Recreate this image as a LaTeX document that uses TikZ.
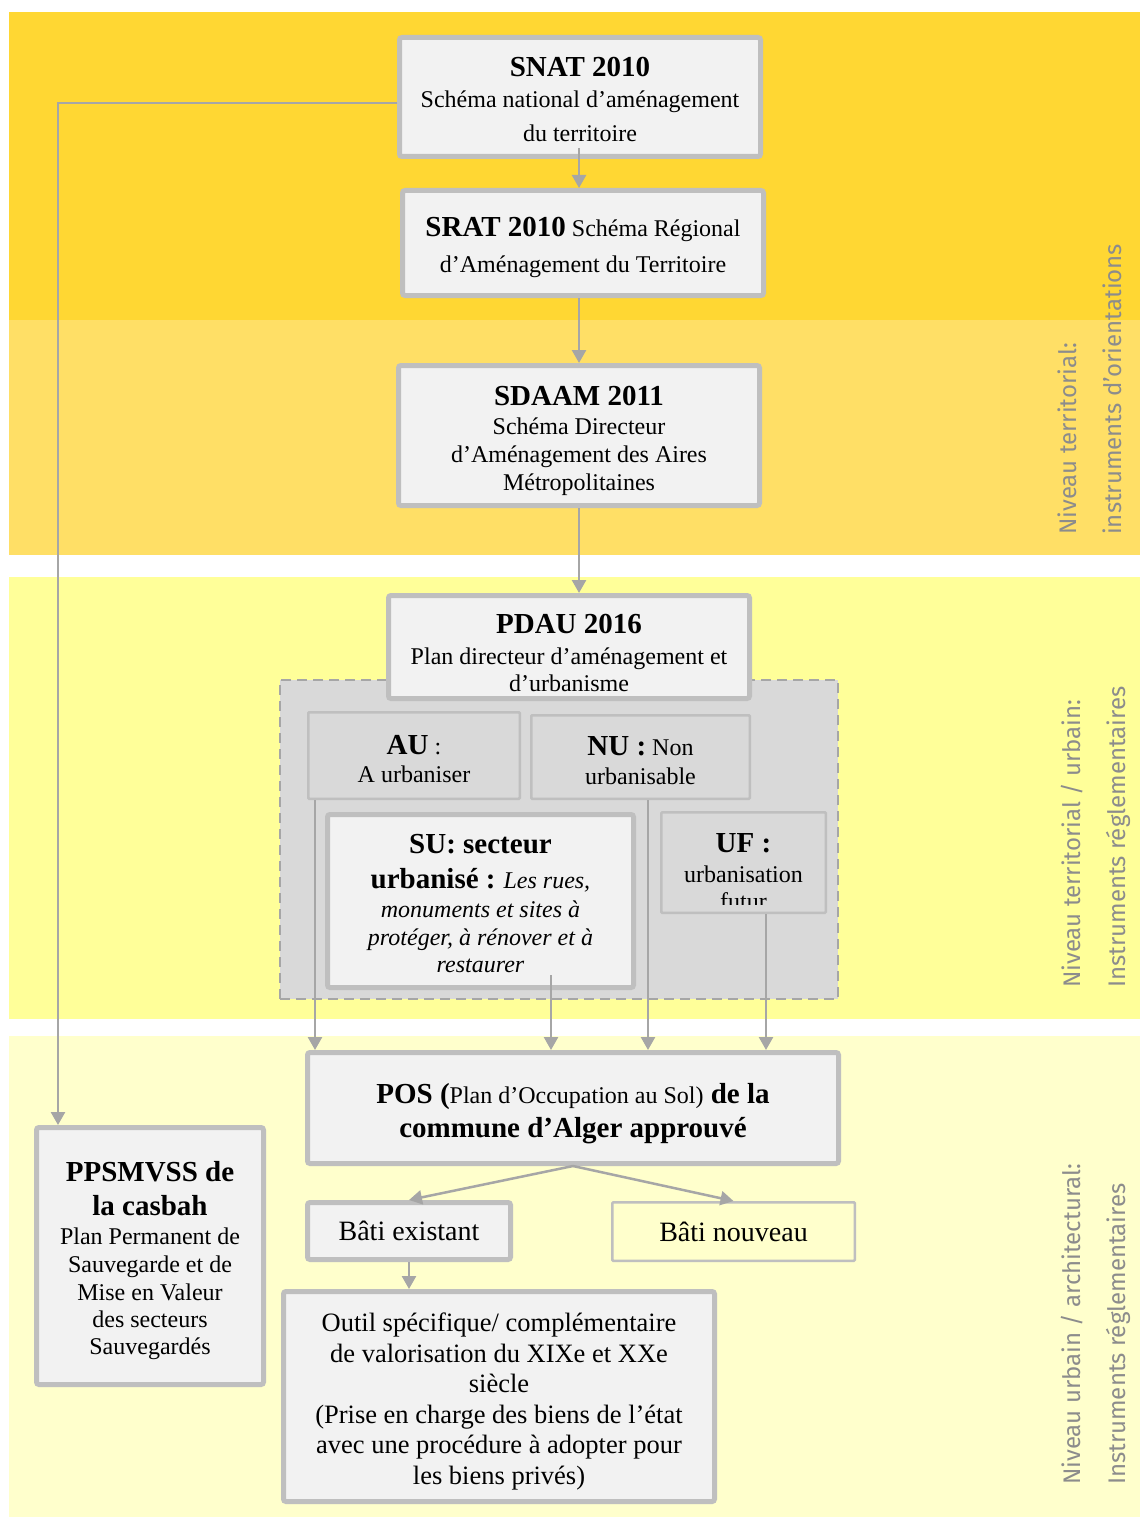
\documentclass[tikz,border=0pt]{standalone}
\usepackage{fontspec}
\setmainfont{Liberation Serif}
\newfontfamily\handfont{Fira Sans}
\usetikzlibrary{arrows.meta,calc}

\definecolor{bandA}{HTML}{FFD733}
\definecolor{bandB}{HTML}{FFDF66}
\definecolor{bandC}{HTML}{FFFF99}
\definecolor{bandD}{HTML}{FFFFCC}
\definecolor{boxfill}{HTML}{F2F2F2}
\definecolor{boxline}{HTML}{BFBFBF}
\definecolor{zonefill}{HTML}{D9D9D9}
\definecolor{zoneline}{HTML}{A6A6A6}
\definecolor{linkgray}{HTML}{A6A6A6}
\definecolor{labelgray}{HTML}{8C8C8C}

\newcommand\bodyfont{\fontsize{24}{28}\selectfont}
\newcommand\headfont{\fontsize{29}{34}\selectfont\bfseries}
\newcommand\bigbody{\fontsize{28}{32}\selectfont}
\newcommand\toolfont{\fontsize{26.5}{30.5}\selectfont}

\tikzset{
  box/.style={draw=boxline, fill=boxfill, line width=5pt, rounded corners=2.5pt,
              inner sep=0pt},
  thinbox/.style={draw=boxline, fill=zonefill, line width=2.5pt, rounded corners=1pt,
              inner sep=0pt},
  txt/.style={align=center, inner sep=0pt, font=\bodyfont},
  zone/.style={draw=zoneline, fill=zonefill, line width=2pt, dash pattern=on 10pt off 6pt,
              inner sep=0pt},
  link/.style={draw=linkgray, line width=2.5pt},
  arr/.style={link, -{Triangle[length=13pt,width=14pt]}},
  sidelabel/.style={rotate=90, anchor=west, align=left, inner sep=0pt, text=labelgray,
              font=\handfont\fontsize{24}{45}\selectfont}
}

\begin{document}
\begin{tikzpicture}[x=1pt,y=-1pt]
\useasboundingbox (0,0) rectangle (1140,1517);

% background bands
\fill[bandA] (9,12) rectangle (1140,320);
\fill[bandB] (9,320) rectangle (1140,555);
\fill[bandC] (9,577) rectangle (1140,1019);
\fill[bandD] (9,1036) rectangle (1140,1517);

% side labels
\node[sidelabel] (labA) at (1090,535) {Niveau territorial:\\instruments d’orientations};
\node[sidelabel] (labB) at (1096,988) {Niveau territorial / urbain:\\Instruments réglementaires};
\node[sidelabel] (labC) at (1096,1485) {Niveau urbain / architectural:\\Instruments réglementaires};

% national / regional / metropolitan schemes
\node[box, minimum width=361pt, minimum height=119pt] (snat) at (580,97) {};
\node[txt] (snatT) at (580,99)
  {{\headfont SNAT 2010}\\[3pt]Schéma national d’aménagement\\[6pt]du territoire};
\node[box, minimum width=361pt, minimum height=105pt] (srat) at (583,243) {};
\node[txt] (sratT) at (583,247)
  {{\headfont SRAT 2010} Schéma Régional\\[8pt]d’Aménagement du Territoire};
\node[box, minimum width=361pt, minimum height=140pt] (sdaam) at (579,435.5) {};
\node[txt] (sdaamT) at (579,441)
  {{\headfont SDAAM 2011}\\[1pt]Schéma Directeur\\d’Aménagement des Aires\\Métropolitaines};

% PDAU zoning area
\node[zone, minimum width=558pt, minimum height=319pt] (zonearea) at (559,839.5) {};
\node[box, minimum width=361pt, minimum height=103pt] (pdau) at (569,647) {};
\node[txt] (pdauT) at (569,653)
  {{\headfont PDAU 2016}\\[3pt]Plan directeur d’aménagement et\\[-1pt]d’urbanisme};
\node[thinbox, minimum width=211.5pt, minimum height=86.5pt] (au) at (414,755.5) {};
\node[txt] (auT) at (414,759.5) {{\headfont AU} :\\A urbaniser};
\node[thinbox, minimum width=218.5pt, minimum height=83.5pt] (nu) at (640.5,757) {};
\node[txt] (nuT) at (640.5,761) {{\headfont NU :} Non\\[1pt]urbanisable};
\node[box, minimum width=306pt, minimum height=173pt] (su) at (480.5,901) {};
\node[txt] (suT) at (480.5,904)
  {{\headfont SU: secteur}\\[7pt]{\headfont urbanisé :} {\itshape Les rues,}\\[1pt]
   {\itshape monuments et sites à}\\{\itshape protéger, à rénover et à}\\[-1pt]{\itshape restaurer}};
\node[thinbox, minimum width=164.5pt, minimum height=100.5pt] (uf) at (743.5,862.5) {};
\begin{scope}
  % the last word runs past the bottom of its box and is cut off there
  \clip (uf.north west) rectangle ([yshift=10pt]uf.south east);
  \node[txt] (ufT) at (743.5,872)
    {{\headfont UF :}\\[2pt]urbanisation\\[-1pt]futur};
\end{scope}

% land use plan and its outcomes
\node[box, minimum width=531pt, minimum height=111pt] (pos) at (573,1108) {};
\node[txt] (posT) at (573,1114)
  {{\headfont POS (}Plan d’Occupation au Sol){\headfont\ de la}\\[6pt]{\headfont commune d’Alger approuvé}};
\node[box, minimum width=227pt, minimum height=257pt] (pp) at (150,1256) {};
\node[txt] (ppT) at (150,1261)
  {{\headfont PPSMVSS de}\\[6pt]{\headfont la casbah}\\[1pt]Plan Permanent de\\Sauvegarde et de\\Mise en Valeur\\[-1pt]des secteurs\\[-1pt]Sauvegardés};
\node[box, minimum width=203pt, minimum height=57pt] (bex) at (409,1231) {};
\node[txt, font=\bigbody] (bexT) at (409,1231) {Bâti existant};
\node[thinbox, fill=bandD, minimum width=242.5pt, minimum height=58.5pt] (bnv) at (733.5,1231.5) {};
\node[txt, font=\bigbody] (bnvT) at (733.5,1232) {Bâti nouveau};
\node[box, minimum width=431pt, minimum height=210pt] (outil) at (499,1396.5) {};
\node[txt, font=\toolfont] (outilT) at (499,1401.5)
  {Outil spécifique/ complémentaire\\de valorisation du XIXe et XXe\\siècle\\(Prise en charge des biens de l’état\\avec une procédure à adopter pour\\les biens privés)};

% connectors
\coordinate (spine) at (579,0);
\coordinate (bend) at (58,103);
\coordinate (xau) at (315,0);
\coordinate (sutail) at (551,975);
\coordinate (xnu) at (648,0);
\coordinate (xuf) at (766,0);

\draw[arr] ([yshift=11pt]snat.south -| spine) -- (srat.north -| spine);
\draw[arr] (srat.south -| spine) -- (sdaam.north -| spine);
\draw[arr] (sdaam.south -| spine) -- (pdau.north -| spine);
\draw[arr] (snat.west |- bend) -- (bend) -- (bend |- pp.north);

\draw[arr] (au.south -| xau) -- (pos.north -| xau);
\draw[arr] (sutail) -- (sutail |- pos.north);
\draw[arr] (nu.south -| xnu) -- (pos.north -| xnu);
\draw[arr] (uf.south -| xuf) -- (pos.north -| xuf);

\draw[arr] (pos.south) -- (bex.north);
\draw[arr] (pos.south) -- (bnv.north);
\draw[arr] (bex.south) -- (outil.north -| bex.south);
\end{tikzpicture}
\end{document}
